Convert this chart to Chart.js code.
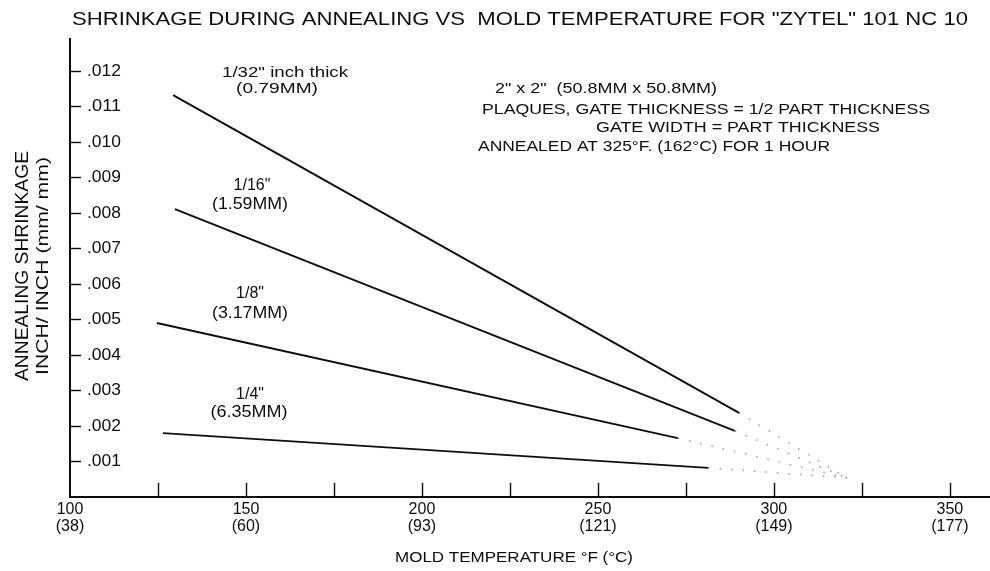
<!DOCTYPE html>
<html>
<head>
<meta charset="utf-8">
<script src="https://cdn.jsdelivr.net/npm/chart.js@4.4.1/dist/chart.umd.min.js"></script>
<style>
  html, body { margin: 0; padding: 0; background: #ffffff; }
  #wrap { position: relative; width: 990px; height: 571px; }
</style>
</head>
<body>
<div id="wrap"><canvas id="c" width="990" height="571"></canvas></div>
<script>
// ---- data ----
const seriesNames   = ['1/32" inch thick', '1/16"', '1/8"', '1/4"'];
const seriesMM      = ['(0.79MM)', '(1.59MM)', '(3.17MM)', '(6.35MM)'];
const tempStart     = [129.3, 129.8, 124.7, 126.4];          // °F
const tempEnd       = [290.1, 288.9, 272.7, 281.3];          // °F
const shrinkStart   = [0.01132, 0.00811, 0.00490, 0.00180];  // in/in
const shrinkEnd     = [0.00237, 0.00186, 0.00166, 0.00082];  // in/in
const convergeTemp  = 320.7;   // faint dotted extrapolation meets here
const convergeShrink = 0.00054;

const xMajorTicks   = [100, 150, 200, 250, 300, 350];
const xCelsius      = ['(38)', '(60)', '(93)', '(121)', '(149)', '(177)'];
const xMinorTicks   = [125, 175, 225, 275, 325];
const yTicks        = [0.001, 0.002, 0.003, 0.004, 0.005, 0.006, 0.007, 0.008, 0.009, 0.010, 0.011, 0.012];
const yTickLabels   = ['.001', '.002', '.003', '.004', '.005', '.006', '.007', '.008', '.009', '.010', '.011', '.012'];

const titleText  = 'SHRINKAGE DURING ANNEALING VS  MOLD TEMPERATURE FOR "ZYTEL" 101 NC 10';
const yTitle1    = 'ANNEALING SHRINKAGE';
const yTitle2    = 'INCH/ INCH (mm/ mm)';
const xTitle     = 'MOLD TEMPERATURE °F (°C)';
const noteLines  = ['2" x 2"  (50.8MM x 50.8MM)', 'PLAQUES, GATE THICKNESS = 1/2 PART THICKNESS', 'GATE WIDTH = PART THICKNESS', 'ANNEALED AT 325°F. (162°C) FOR 1 HOUR'];

// ---- build datasets ----
const ink = '#0d0d0d';
const datasets = [];
for (let i = 0; i < seriesNames.length; i++) {
  datasets.push({
    label: seriesNames[i],
    data: [{x: tempStart[i], y: shrinkStart[i]}, {x: tempEnd[i], y: shrinkEnd[i]}],
    borderColor: ink, borderWidth: 1.9, pointRadius: 0, showLine: true, tension: 0
  });
}
for (let i = 0; i < seriesNames.length; i++) {
  datasets.push({
    label: seriesNames[i] + ' (extrapolated)',
    data: [{x: tempEnd[i], y: shrinkEnd[i]}, {x: convergeTemp, y: convergeShrink}],
    borderColor: 'rgba(50,50,50,0.5)', borderWidth: 1.5, borderDash: [1.5, 10], pointRadius: 0, showLine: true
  });
}

const FONT = '"Liberation Sans", Arial, Helvetica, sans-serif';

function txt(ctx, s, x, y, size, align, width) {
  ctx.save();
  ctx.font = size + 'px ' + FONT;
  ctx.fillStyle = ink;
  ctx.textBaseline = 'middle';
  let w = ctx.measureText(s).width;
  let sx = 1;
  if (width) sx = width / w;
  let left;
  if (align === 'center') left = x - (w * sx) / 2;
  else if (align === 'right') left = x - w * sx;
  else left = x;
  ctx.translate(left, y);
  ctx.scale(sx, 1);
  ctx.textAlign = 'left';
  ctx.fillText(s, 0, 0);
  ctx.restore();
}

const decor = {
  id: 'decor',
  afterDraw(chart) {
    const ctx = chart.ctx;
    const xs = chart.scales.x, ys = chart.scales.y;
    const area = chart.chartArea;
    const x0 = xs.getPixelForValue(100);
    const yb = ys.getPixelForValue(0);
    ctx.save();
    ctx.strokeStyle = ink;
    ctx.lineWidth = 2;
    // axes
    ctx.beginPath();
    ctx.moveTo(x0, area.top - 2);
    ctx.lineTo(x0, yb);
    ctx.lineTo(area.right, yb);
    ctx.stroke();
    // x ticks (pointing up)
    ctx.lineWidth = 1.4;
    [...xMajorTicks, ...xMinorTicks].forEach(v => {
      if (v === 100) return;
      const px = Math.round(xs.getPixelForValue(v)) + 0.5;
      ctx.beginPath();
      ctx.moveTo(px, yb);
      ctx.lineTo(px, yb - 14);
      ctx.stroke();
    });
    // y ticks (pointing right)
    yTicks.forEach((v, i) => {
      const py = Math.round(ys.getPixelForValue(v)) + 0.5;
      ctx.beginPath();
      ctx.moveTo(x0, py);
      ctx.lineTo(x0 + 11, py);
      ctx.stroke();
      txt(ctx, yTickLabels[i], x0 + 17, py, 16, 'left', 34);
    });
    ctx.restore();
    // x tick labels
    xMajorTicks.forEach((v, i) => {
      const px = xs.getPixelForValue(v);
      txt(ctx, String(v), px, yb + 13, 16, 'center');
      txt(ctx, xCelsius[i], px, yb + 30, 16, 'center');
    });
    // titles
    txt(ctx, titleText, 72, 20, 18, 'left', 896);
    txt(ctx, xTitle, 514, 558, 15, 'center', 238);
    ctx.save();
    ctx.translate(23, 266);
    ctx.rotate(-Math.PI / 2);
    txt(ctx, yTitle1, 0, 0, 18, 'center', 230);
    txt(ctx, yTitle2, 0, 20, 17, 'center', 218);
    ctx.restore();
    // series annotations
    txt(ctx, seriesNames[0], 285, 73, 15, 'center', 126);
    txt(ctx, seriesMM[0], 277, 89, 15, 'center', 82);
    txt(ctx, seriesNames[1], 252, 186, 16, 'center');
    txt(ctx, seriesMM[1], 250, 205, 16, 'center', 76);
    txt(ctx, seriesNames[2], 250, 294, 16, 'center');
    txt(ctx, seriesMM[2], 250, 314, 16, 'center', 76);
    txt(ctx, seriesNames[3], 250, 395, 16, 'center');
    txt(ctx, seriesMM[3], 249, 413, 16, 'center', 77);
    // note block
    txt(ctx, noteLines[0], 495, 89, 15, 'left', 222);
    txt(ctx, noteLines[1], 482, 110, 15, 'left', 448);
    txt(ctx, noteLines[2], 596, 128, 15, 'left', 284);
    txt(ctx, noteLines[3], 478, 147, 15, 'left', 352);
  }
};

new Chart(document.getElementById('c'), {
  type: 'scatter',
  data: { datasets },
  options: {
    responsive: false,
    animation: false,
    devicePixelRatio: 1,
    layout: { padding: { left: 70, right: 0, top: 40, bottom: 74 } },
    plugins: { legend: { display: false }, tooltip: { enabled: false }, title: { display: false } },
    scales: {
      x: { type: 'linear', min: 100, max: 361.4, display: false },
      y: { type: 'linear', min: 0, max: 0.012873, display: false }
    }
  },
  plugins: [decor]
});
</script>
</body>
</html>
